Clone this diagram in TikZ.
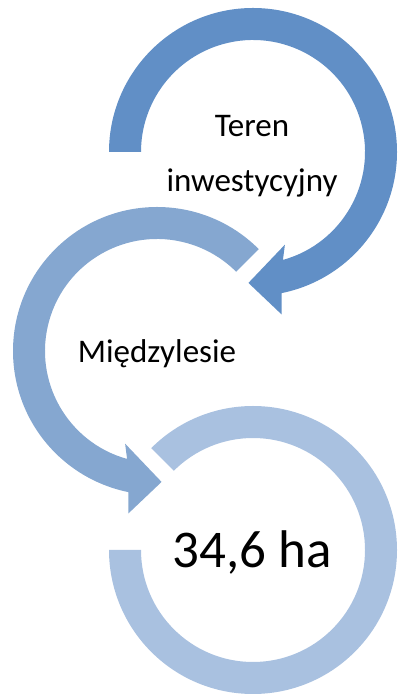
\documentclass[tikz,border=0pt]{standalone}
\usepackage{fontspec}
\setmainfont{Carlito}
\usepackage{xcolor}
\usetikzlibrary{positioning,calc}

\definecolor{ringA}{RGB}{97,143,198}
\definecolor{ringB}{RGB}{133,167,208}
\definecolor{ringC}{RGB}{169,193,224}

\tikzset{
	ringpart/.style={draw=none},
	steptext/.style={font=\fontsize{33}{39}\selectfont, anchor=base, inner sep=0pt},
	bigtext/.style={font=\fontsize{53}{63}\selectfont, anchor=base, inner sep=0pt}
}

\begin{document}
\begin{tikzpicture}[x=1pt,y=1pt]

        \useasboundingbox (0,0) rectangle (398,695);

        \coordinate (cA) at (253,543);
        \coordinate (cB) at (157,344);
        \coordinate (cC) at (253,145);

        % top ring, arrow clockwise
        \fill [ringpart, ringA] ($(cA)+(180:144)$) arc [start angle=180, end angle=-78.5, radius=144]
            -- ($(cA)+(-80:165)$) -- ($(cA)+(-92:131)$) -- ($(cA)+(-71:98)$)
            -- ($(cA)+(-74.5:112)$) arc [start angle=-74.5, end angle=180, radius=112] -- cycle;

        % middle ring, arrow counter-clockwise
        \fill [ringpart, ringB] ($(cB)+(45:144)$) arc [start angle=45, end angle=258.5, radius=144]
            -- ($(cB)+(260:165)$) -- ($(cB)+(272:131)$) -- ($(cB)+(251:98)$)
            -- ($(cB)+(254.5:112)$) arc [start angle=254.5, end angle=45, radius=112] -- cycle;

        % bottom ring
        \fill [ringpart, ringC] ($(cC)+(135:144)$) arc [start angle=135, end angle=-180, radius=144]
            -- ($(cC)+(180:112)$) arc [start angle=-180, end angle=135, radius=112] -- cycle;

        \node [steptext] (teren) at(252,558) {Teren};
        \node [steptext] (inwest) at(252,503) {inwestycyjny};
        \node [steptext] (miedzy) at(157,332) {Międzylesie};
        \node [bigtext] (area) at(252,127) {34,6 ha};

    \end{tikzpicture}
\end{document}
